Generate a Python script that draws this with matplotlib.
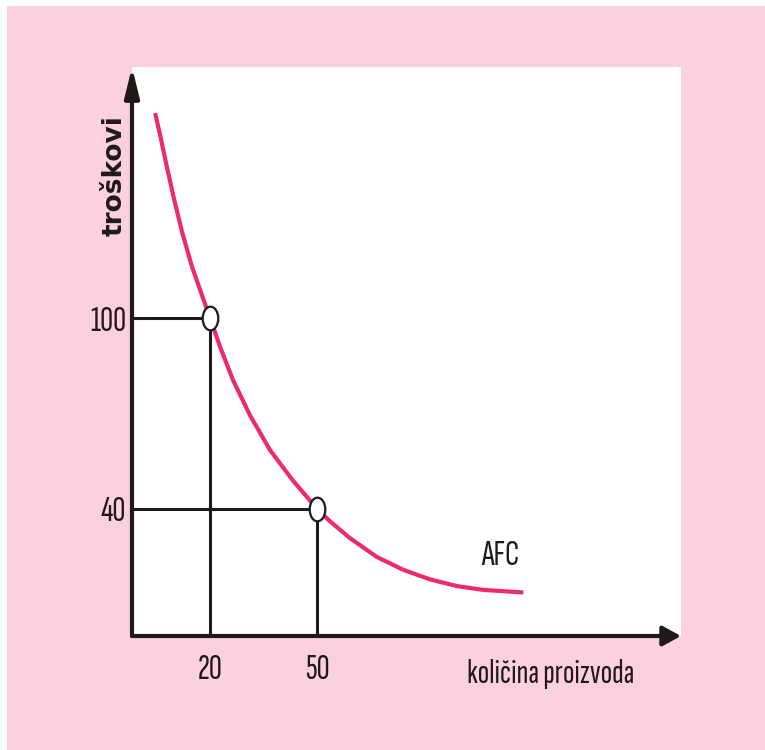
import matplotlib.pyplot as plt
from matplotlib.markers import MarkerStyle
from matplotlib.patches import Rectangle
from matplotlib.transforms import Affine2D

plt.rcParams['font.family'] = ['Sofia Sans Extra Condensed', 'DejaVu Sans']

# AFC curve
quantity = [4.6, 6.0, 7.85, 9.98, 12.2, 14.9, 17.7, 20, 22.8, 26.4, 31.2, 36.8,
            43.3, 50, 53.6, 59.2, 66.7, 74.2, 81.7, 89.2, 96.6, 107.8]
afc = [164.5, 157.6, 147.8, 137.1, 126.9, 116.3, 107.3, 100, 91.0, 80.6, 69.4, 58.5,
       48.8, 40, 36.1, 30.8, 24.9, 20.8, 17.8, 15.7, 14.5, 13.7]

# marked points
point_q = [20, 50]
point_cost = [100, 40]

x_ticks = [20, 50]
y_ticks = [40, 100]

pink = '#fdd0e0'
magenta = '#ee2a6e'
ink = '#1e1a17'

fig = plt.figure(figsize=(7.65, 7.5), dpi=100)
fig.patch.set_facecolor(pink)
# thin white border at top and left
fig.patches.append(Rectangle((0, 1 - 6 / 750), 1, 6 / 750, transform=fig.transFigure,
                             facecolor='white', edgecolor='none'))
fig.patches.append(Rectangle((0, 0), 7 / 765, 1, transform=fig.transFigure,
                             facecolor='white', edgecolor='none'))

ax = fig.add_axes([132 / 765, 114 / 750, 549 / 765, 569 / 750])
ax.set_facecolor('white')
ax.set_xlim(-1.88, 152)
ax.set_ylim(0, 179)
for s in ax.spines.values():
    s.set_visible(False)

# axes with arrows
ax.annotate('', xy=(1, 0), xytext=(0, 0), xycoords='axes fraction',
            arrowprops=dict(arrowstyle='-|>,head_length=0.55,head_width=0.3',
                            mutation_scale=20, lw=3, color=ink,
                            shrinkA=0, shrinkB=0), annotation_clip=False)
ax.annotate('', xy=(0, 1), xytext=(0, 0), xycoords='axes fraction',
            arrowprops=dict(arrowstyle='-|>,head_length=0.9,head_width=0.22',
                            mutation_scale=20, lw=3, color=ink,
                            shrinkA=0, shrinkB=0), annotation_clip=False)

# guide lines
x0 = ax.get_xlim()[0]
for q, c in zip(point_q, point_cost):
    ax.plot([x0, q], [c, c], color=ink, lw=2.2, solid_capstyle='butt', zorder=2)
    ax.plot([q, q], [0, c], color=ink, lw=2.2, solid_capstyle='butt', zorder=2)

ax.plot(quantity, afc, color=magenta, lw=3, solid_capstyle='butt',
        solid_joinstyle='round', zorder=3)

oval = MarkerStyle('o', transform=Affine2D().scale(0.66, 1))
ax.plot(point_q, point_cost, linestyle='none', marker=oval, ms=17,
        mfc='white', mec=ink, mew=1.6, zorder=4)

ax.set_xticks(x_ticks)
ax.set_yticks(y_ticks)
ax.tick_params(axis='both', length=0, labelsize=26, colors=ink)
ax.tick_params(axis='y', pad=4)
ax.tick_params(axis='x', pad=13)
for lab in ax.get_xticklabels() + ax.get_yticklabels():
    lab.set_fontweight('light')

ax.set_xlabel('količina proizvoda', fontsize=24.5, fontweight='light', color=ink,
              ha='left', va='baseline')
ax.xaxis.set_label_coords(0.61, -0.0826)
ax.set_ylabel('troškovi', fontsize=19, family=['DejaVu Sans'], fontweight='bold',
              color=ink, ha='center', va='center')
ax.yaxis.set_label_coords(-0.031, 0.81)

ax.text(101.3, 22.3, 'AFC', fontsize=26, fontweight='light', color=ink,
        ha='center', va='baseline')

fig.savefig('out.png', dpi=100, facecolor=fig.get_facecolor())
